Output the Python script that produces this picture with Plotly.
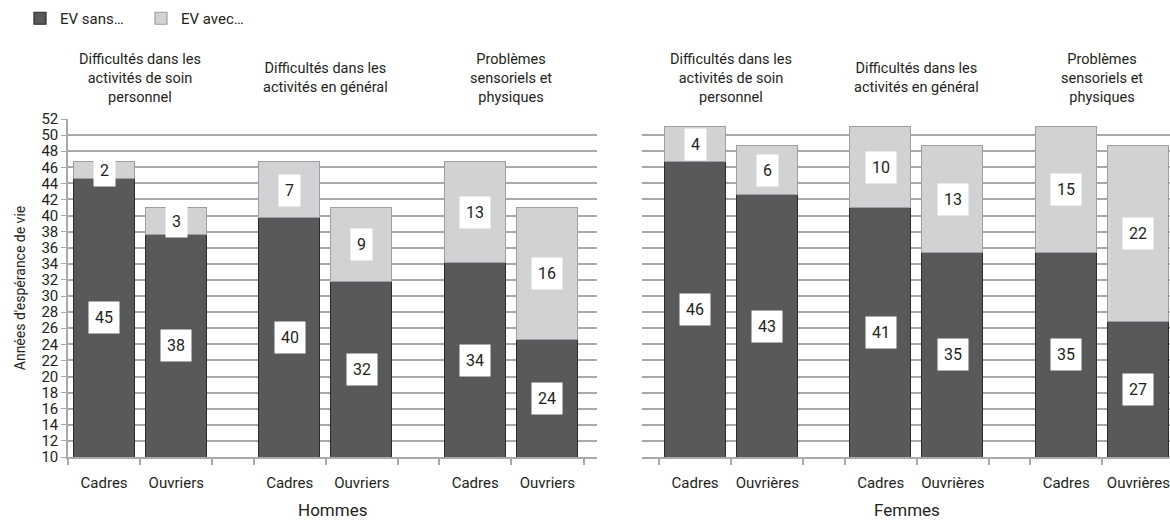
import plotly.graph_objects as go

# ---------------- data ----------------
groups = [
    "Difficultés dans les<br>activités de soin<br>personnel",
    "Difficultés dans les<br>activités en général",
    "Problèmes<br>sensoriels et<br>physiques",
]
hommes_cats = ["Cadres", "Ouvriers"]
femmes_cats = ["Cadres", "Ouvrières"]

hommes_sans = [44.6, 37.6, 39.7, 31.8, 34.1, 24.5]
hommes_avec = [2.0, 3.4, 6.9, 9.2, 12.5, 16.5]
hommes_sans_lbl = [45, 38, 40, 32, 34, 24]
hommes_avec_lbl = [2, 3, 7, 9, 13, 16]

femmes_sans = [46.6, 42.5, 41.0, 35.4, 35.4, 26.8]
femmes_avec = [4.4, 6.2, 10.0, 13.3, 15.6, 21.9]
femmes_sans_lbl = [46, 43, 41, 35, 35, 27]
femmes_avec_lbl = [4, 6, 10, 13, 15, 22]

y_ticks = list(range(10, 53, 2))

# ---------------- style ----------------
FONT = "Roboto, sans-serif"
TXT = "#231f20"
DARK = "#58595b"
LIGHT = "#d1d2d4"
GRID = "#a7a9ac"
W, H = 1170, 525

GAP = 0.57  # gap between groups, in slot units
BAR_W = 0.845

def positions(n_groups):
    xs = []
    for g in range(n_groups):
        base = g * (2 + GAP)
        xs += [base + 0.5, base + 1.5]
    return xs

def boundaries(n_groups):
    b = []
    for g in range(n_groups):
        base = g * (2 + GAP)
        b += [base, base + 1, base + 2]
    return b

xs = positions(len(groups))
bounds = boundaries(len(groups))
centers = [g * (2 + GAP) + 1 for g in range(len(groups))]

def px_x(p):
    return p / W

def px_y(p):
    return (H - p) / H

fig = go.Figure()

panels = [
    ("x", "y", hommes_sans, hommes_avec, hommes_sans_lbl, hommes_avec_lbl, hommes_cats, True),
    ("x2", "y2", femmes_sans, femmes_avec, femmes_sans_lbl, femmes_avec_lbl, femmes_cats, False),
]

for xa, ya, sans, avec, sl, al, cats, show in panels:
    fig.add_trace(go.Bar(
        x=xs, y=sans, xaxis=xa, yaxis=ya, width=BAR_W,
        marker=dict(color=DARK, line=dict(color="#2b2b2b", width=1.2)),
        name="EV sans…", showlegend=show, legendgroup="sans", hoverinfo="skip",
    ))
    fig.add_trace(go.Bar(
        x=xs, y=avec, xaxis=xa, yaxis=ya, width=BAR_W,
        marker=dict(color=LIGHT, line=dict(color="#9d9fa2", width=1.2)),
        name="EV avec…", showlegend=show, legendgroup="avec", hoverinfo="skip",
    ))
    for x, s, a, ls, la in zip(xs, sans, avec, sl, al):
        fig.add_annotation(x=x, y=(10 + s) / 2, xref=xa, yref=ya, text=str(ls),
                           showarrow=False, bgcolor="white", borderpad=6,
                           font=dict(size=16, color=TXT, family=FONT))
        fig.add_annotation(x=x, y=s + a / 2, xref=xa, yref=ya, text=str(la),
                           showarrow=False, bgcolor="white", borderpad=6,
                           font=dict(size=16, color=TXT, family=FONT))
    for c, gname in zip(centers, groups):
        fig.add_annotation(x=c, y=px_y(78), xref=xa, yref="paper", text=gname,
                           showarrow=False, align="center", xanchor="center",
                           yanchor="middle",
                           font=dict(size=14.5, color=TXT, family=FONT))

SLOT = 72.2
left_x0, left_x1 = 68, 597
right_x0, right_x1, right_slot0 = 642, 1170, 659

xaxis_common = dict(
    tickmode="array", tickvals=xs, ticks="", showgrid=False, zeroline=False,
    showline=True, linecolor=GRID, linewidth=1.5, automargin=False,
    tickfont=dict(size=15, color=TXT, family=FONT), ticklabelstandoff=11,
    ticklabeloverflow="allow",
    minor=dict(tickmode="array", tickvals=bounds, ticks="outside", ticklen=6,
               tickcolor=GRID, tickwidth=1.5, showgrid=False),
)

fig.update_layout(
    width=W, height=H, margin=dict(l=0, r=0, t=0, b=0),
    paper_bgcolor="white", plot_bgcolor="white", barmode="stack", bargap=0,
    font=dict(family=FONT, color=TXT),
    xaxis=dict(domain=[px_x(left_x0), px_x(left_x1)],
               range=[0, (left_x1 - left_x0) / SLOT],
               ticktext=hommes_cats * 3, anchor="y", **xaxis_common),
    xaxis2=dict(domain=[px_x(right_x0), 1.0],
                range=[-(right_slot0 - right_x0) / SLOT, (right_x1 - right_slot0) / SLOT],
                ticktext=femmes_cats * 3, anchor="y2", **xaxis_common),
    yaxis=dict(domain=[px_y(457), px_y(119)], range=[10, 52], tickmode="array",
               tickvals=y_ticks, showgrid=True, gridcolor=GRID, gridwidth=1.5,
               showline=True, linecolor=GRID, linewidth=1.5, ticks="outside",
               ticklen=5, tickcolor=GRID, zeroline=False, automargin=False,
               tickfont=dict(size=15, color=TXT, family=FONT),
               title=dict(text="Années d'espérance de vie", standoff=12,
                          font=dict(size=14, color=TXT, family=FONT))),
    yaxis2=dict(domain=[px_y(457), px_y(119)], range=[10, 52], tickmode="array",
                tickvals=y_ticks, showgrid=True, gridcolor=GRID, gridwidth=1.5,
                showline=False, showticklabels=False, ticks="", zeroline=False,
                anchor="x2", automargin=False),
    legend=dict(orientation="h", x=px_x(20), y=px_y(2), xanchor="left", yanchor="top",
                font=dict(size=15, color=TXT, family=FONT), traceorder="normal",
                entrywidth=76, entrywidthmode="pixels", itemwidth=30,
                bgcolor="rgba(0,0,0,0)"),
)

fig.add_annotation(x=(left_x0 + left_x1) / 2 / W, y=px_y(510), xref="paper", yref="paper",
                   text="Hommes", showarrow=False, xanchor="center", yanchor="middle",
                   font=dict(size=17, color=TXT, family=FONT))
fig.add_annotation(x=(right_x0 + 1172) / 2 / W, y=px_y(510), xref="paper", yref="paper",
                   text="Femmes", showarrow=False, xanchor="center", yanchor="middle",
                   font=dict(size=17, color=TXT, family=FONT))

fig.write_html("out.html",
               config={"displayModeBar": False},
               post_script="document.body.style.margin='0px';"
                           "document.body.style.overflow='hidden';")
